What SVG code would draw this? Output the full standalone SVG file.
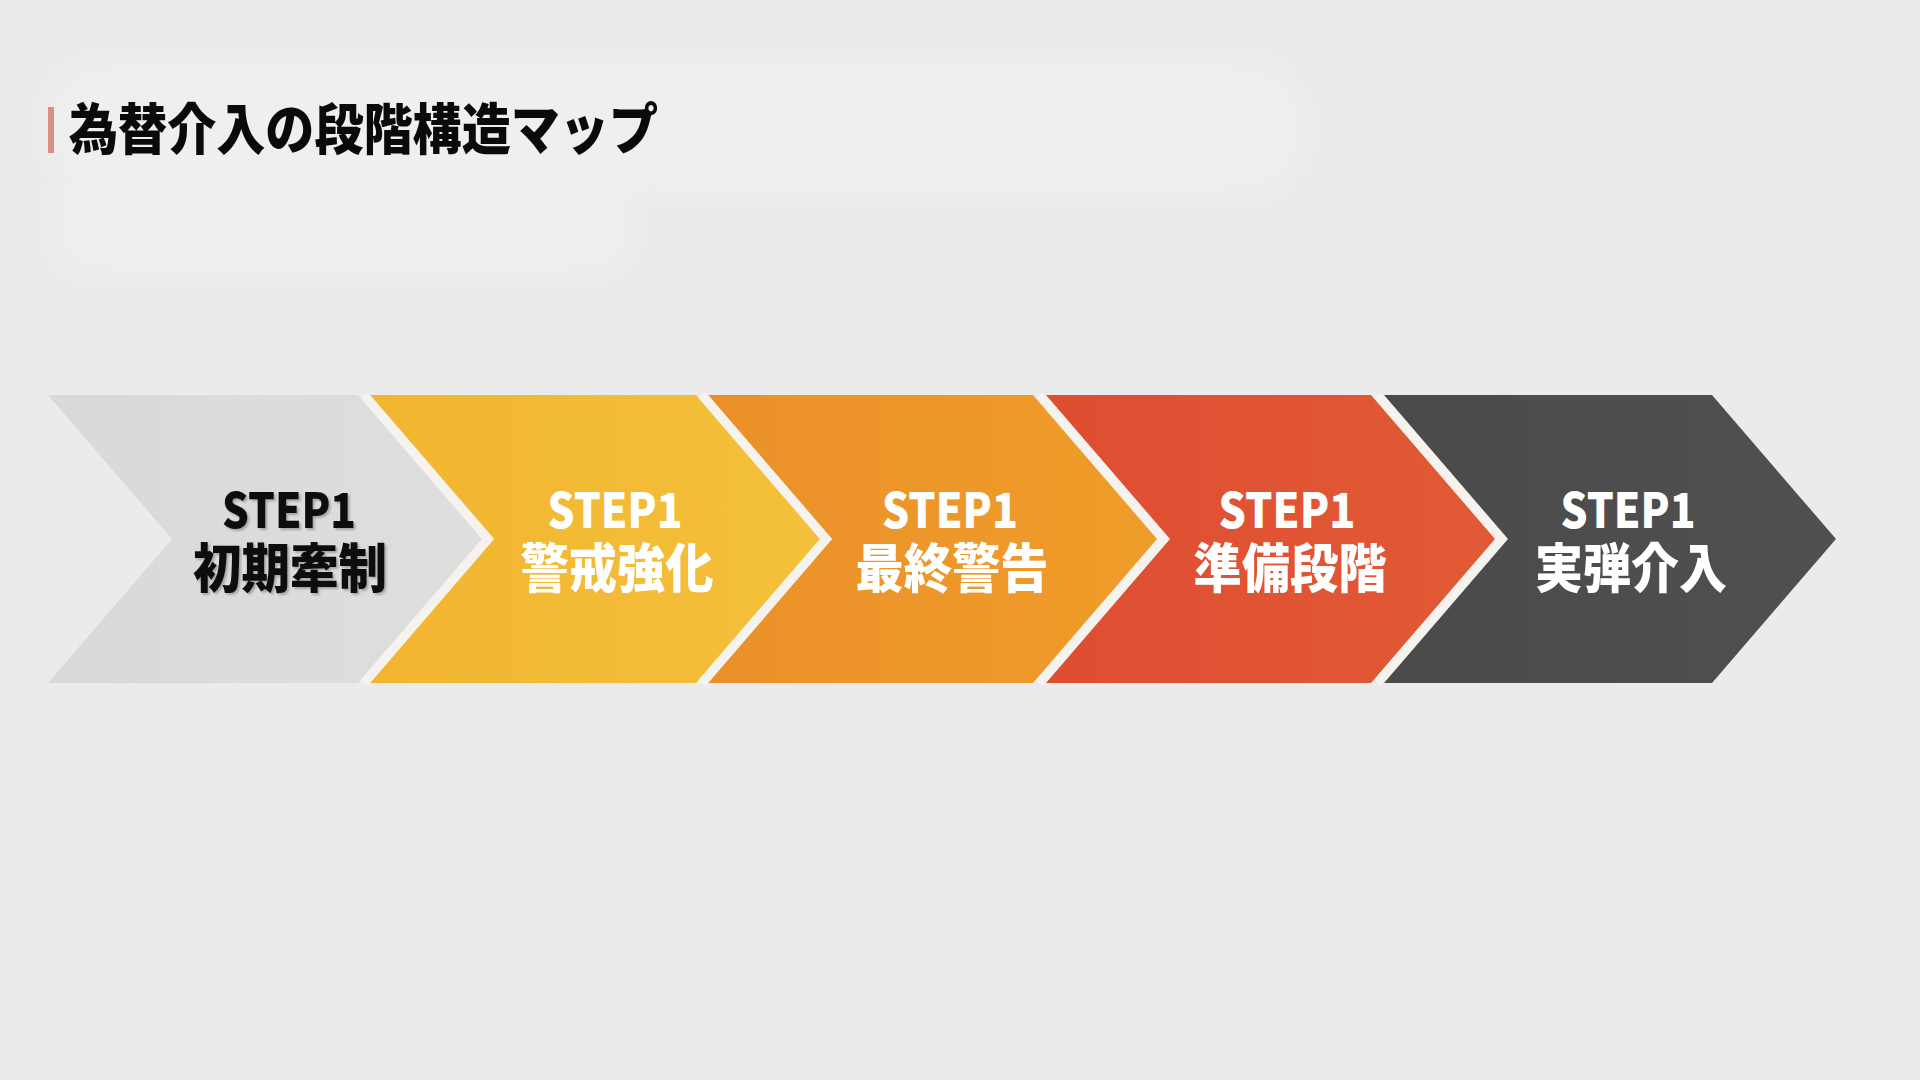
<svg xmlns="http://www.w3.org/2000/svg" width="1920" height="1080" viewBox="0 0 1920 1080">
  <defs>
    <filter id="blur" x="-20%" y="-50%" width="140%" height="200%">
      <feGaussianBlur stdDeviation="12"/>
    </filter>
    <filter id="tshadow" x="-10%" y="-20%" width="120%" height="140%">
      <feDropShadow dx="2" dy="2" stdDeviation="1" flood-color="#000" flood-opacity="0.25"/>
    </filter>
    <linearGradient id="gGrey" x1="0" y1="0" x2="1" y2="0">
      <stop offset="0" stop-color="#d9d9d9"/>
      <stop offset="1" stop-color="#dedede"/>
    </linearGradient>
    <linearGradient id="gYellow" x1="0" y1="0" x2="1" y2="0">
      <stop offset="0" stop-color="#f2b530"/>
      <stop offset="1" stop-color="#f4c03a"/>
    </linearGradient>
    <linearGradient id="gOrange" x1="0" y1="0" x2="1" y2="0">
      <stop offset="0" stop-color="#eb9029"/>
      <stop offset="1" stop-color="#ef9d2a"/>
    </linearGradient>
    <linearGradient id="gRed" x1="0" y1="0" x2="1" y2="0">
      <stop offset="0" stop-color="#df4d31"/>
      <stop offset="1" stop-color="#e15a35"/>
    </linearGradient>
    <linearGradient id="gDark" x1="0" y1="0" x2="1" y2="0">
      <stop offset="0" stop-color="#4a4a4a"/>
      <stop offset="1" stop-color="#505050"/>
    </linearGradient>
    <style>
      .title { font-family: "Noto Sans CJK JP", "Noto Sans", sans-serif; font-weight: 900; font-size: 55px; fill: #0a0a0a; }
      .step { font-family: "Noto Sans CJK JP", "Noto Sans", sans-serif; font-weight: 900; font-size: 48px; text-anchor: middle; }
      .label { font-family: "Noto Sans CJK JP", "Noto Sans", sans-serif; font-weight: 900; font-size: 53px; text-anchor: middle; }
      .dark { fill: #0d0d0d; }
      .light { fill: #ffffff; }
      .sep { fill: none; stroke: #f6f3ee; stroke-width: 9; stroke-linejoin: miter; }
    </style>
  </defs>

  <rect x="0" y="0" width="1920" height="1080" fill="#ebebec"/>
  <!-- faint lighter background blobs -->
  <g opacity="0.55" filter="url(#blur)">
    <rect x="50" y="65" width="1250" height="125" rx="60" fill="#f3f3f4"/>
    <rect x="58" y="170" width="570" height="100" rx="40" fill="#f3f3f4"/>
  </g>

  <g id="title">
    <rect x="48" y="107" width="6" height="46" fill="#d98e86"/>
    <text class="title" x="69" y="149" textLength="589" lengthAdjust="spacingAndGlyphs">為替介入の段階構造マップ</text>
  </g>

  <g id="step1">
    <polygon points="48,395 358,395 482,539 358,683 48,683 172,539" fill="url(#gGrey)"/>
    <text class="step dark" x="289" y="528" textLength="134" lengthAdjust="spacingAndGlyphs" filter="url(#tshadow)">STEP1</text>
    <text class="label dark" x="290" y="588" textLength="194" lengthAdjust="spacingAndGlyphs" filter="url(#tshadow)">初期牽制</text>
  </g>
  <g id="step2">
    <polygon points="370,395 696,395 820,539 696,683 370,683 494,539" fill="url(#gYellow)"/>
    <text class="step light" x="615" y="528" textLength="135" lengthAdjust="spacingAndGlyphs">STEP1</text>
    <text class="label light" x="617" y="588" textLength="193" lengthAdjust="spacingAndGlyphs">警戒強化</text>
  </g>
  <g id="step3">
    <polygon points="708,395 1033,395 1157,539 1033,683 708,683 832,539" fill="url(#gOrange)"/>
    <text class="step light" x="950" y="528" textLength="136" lengthAdjust="spacingAndGlyphs">STEP1</text>
    <text class="label light" x="952" y="588" textLength="193" lengthAdjust="spacingAndGlyphs">最終警告</text>
  </g>
  <g id="step4">
    <polygon points="1046,395 1371,395 1495,539 1371,683 1046,683 1170,539" fill="url(#gRed)"/>
    <text class="step light" x="1287" y="528" textLength="137" lengthAdjust="spacingAndGlyphs">STEP1</text>
    <text class="label light" x="1290" y="588" textLength="193" lengthAdjust="spacingAndGlyphs">準備段階</text>
  </g>
  <g id="step5">
    <polygon points="1384,395 1712,395 1836,539 1712,683 1384,683 1508,539" fill="url(#gDark)"/>
    <text class="step light" x="1628" y="528" textLength="135" lengthAdjust="spacingAndGlyphs">STEP1</text>
    <text class="label light" x="1631" y="588" textLength="192" lengthAdjust="spacingAndGlyphs">実弾介入</text>
  </g>

  <g id="connectors">
    <polyline class="sep" points="364,395 488,539 364,683"/>
    <polyline class="sep" points="702,395 826,539 702,683"/>
    <polyline class="sep" points="1039.5,395 1163.5,539 1039.5,683"/>
    <polyline class="sep" points="1377.5,395 1501.5,539 1377.5,683"/>
  </g>
</svg>
